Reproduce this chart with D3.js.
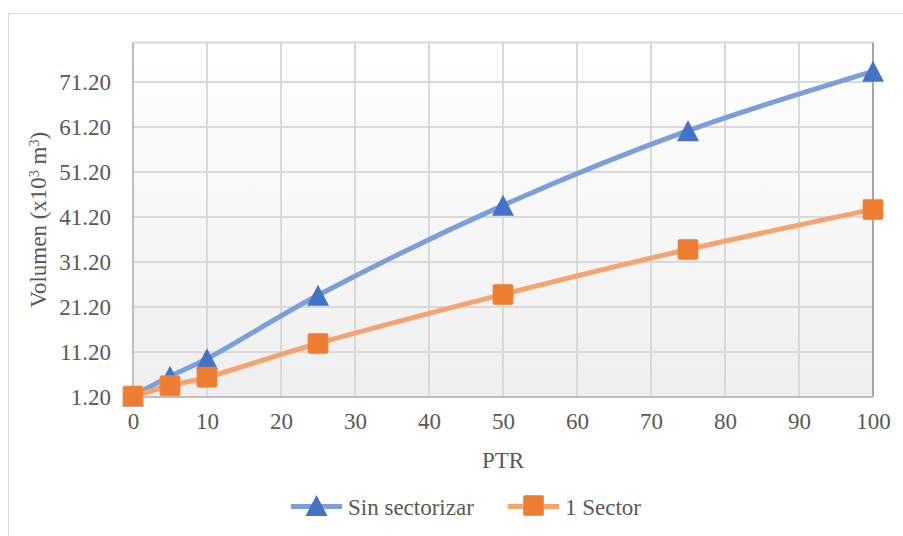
<!DOCTYPE html>
<html><head><meta charset="utf-8">
<script src="https://cdn.jsdelivr.net/npm/d3@7"></script>
<style>body{margin:0;background:#fff}svg{display:block}
svg text{font-family:"Liberation Serif","Times New Roman",serif;}</style>
</head><body><svg id="c" width="903" height="536"></svg>
<script>
const ptr = [0, 5, 10, 25, 50, 75, 100];
const sinSectorizar = [1.4, 5.8, 9.7, 23.8, 43.8, 60.4, 73.6];
const unSector = [1.4, 3.7, 5.6, 13.1, 24.0, 34.0, 42.9];
const yTicks = [1.2, 11.2, 21.2, 31.2, 41.2, 51.2, 61.2, 71.2];
const xTicks = [0, 10, 20, 30, 40, 50, 60, 70, 80, 90, 100];
const seriesNames = ["Sin sectorizar", "1 Sector"];

const FONT = '"Liberation Serif","Times New Roman",serif';
const svg = d3.select("#c");
const L = 133, R = 873, T = 42.5, B = 397;
const x = d3.scaleLinear().domain([0, 100]).range([L, R]);
const y = d3.scaleLinear().domain([1.2, 80]).range([B, T]);

svg.append("rect").attr("x", 8.5).attr("y", 13.5).attr("width", 1000).attr("height", 1000)
  .attr("fill", "#fff").attr("stroke", "#d9d9d9").attr("stroke-width", 1);

const defs = svg.append("defs");
const g = defs.append("linearGradient").attr("id", "bg").attr("x1", 0).attr("y1", 0).attr("x2", 0).attr("y2", 1);
g.append("stop").attr("offset", "0%").attr("stop-color", "#ffffff");
g.append("stop").attr("offset", "100%").attr("stop-color", "#efefef");
svg.append("rect").attr("x", L).attr("y", T).attr("width", R - L).attr("height", B - T).attr("fill", "url(#bg)");

svg.append("g").selectAll("line").data(xTicks.slice(1)).join("line")
  .attr("x1", d => x(d)).attr("x2", d => x(d)).attr("y1", T).attr("y2", B)
  .attr("stroke", "#d9d9d9").attr("stroke-width", 2);
svg.append("g").selectAll("line").data(yTicks.slice(1)).join("line")
  .attr("x1", L).attr("x2", R).attr("y1", d => y(d)).attr("y2", d => y(d))
  .attr("stroke", "#d9d9d9").attr("stroke-width", 2);
svg.append("line").attr("x1", L).attr("x2", R).attr("y1", T).attr("y2", T).attr("stroke", "#d9d9d9").attr("stroke-width", 2);
svg.append("line").attr("x1", L).attr("x2", L).attr("y1", T).attr("y2", B).attr("stroke", "#bfbfbf").attr("stroke-width", 2);
svg.append("line").attr("x1", R).attr("x2", R).attr("y1", T).attr("y2", B).attr("stroke", "#a6a6a6").attr("stroke-width", 2);
svg.append("line").attr("x1", L).attr("x2", R).attr("y1", B).attr("y2", B).attr("stroke", "#bfbfbf").attr("stroke-width", 2);

const yAxis = svg.append("g").attr("transform", `translate(${L},0)`)
  .call(d3.axisLeft(y).tickValues(yTicks).tickFormat(d3.format(".2f")).tickSize(0).tickPadding(22));
const xAxis = svg.append("g").attr("transform", `translate(0,${B})`)
  .call(d3.axisBottom(x).tickValues(xTicks).tickSize(0).tickPadding(16));
[yAxis, xAxis].forEach(a => {
  a.select(".domain").remove();
  a.attr("font-family", null);
  a.selectAll("text").style("font-family", FONT).attr("font-size", 23).attr("fill", "#595959");
});

svg.append("text").attr("transform", `translate(46,${(T + B) / 2}) rotate(-90)`)
  .attr("text-anchor", "middle").style("font-family", FONT).attr("font-size", 23).attr("fill", "#595959")
  .html('Volumen (x10<tspan baseline-shift="super" font-size="14">3</tspan> m<tspan baseline-shift="super" font-size="14">3</tspan>)');
svg.append("text").attr("x", (L + R) / 2).attr("y", 468).attr("text-anchor", "middle")
  .style("font-family", FONT).attr("font-size", 23).attr("fill", "#595959").text("PTR");

const line = d3.line().x(d => x(d[0])).y(d => y(d[1])).curve(d3.curveCatmullRom.alpha(0.5));
const series = [
  { name: seriesNames[0], vals: sinSectorizar, line: "#7a9fdb", mark: "#4472c4", shape: "tri" },
  { name: seriesNames[1], vals: unSector, line: "#f4a470", mark: "#ed7d31", shape: "sq" }
];
const tri = "M0,-10.5L11,10.5L-11,10.5Z";
function marker(sel, s) {
  if (s.shape === "tri") sel.append("path").attr("d", tri).attr("fill", s.mark);
  else sel.append("rect").attr("x", -10).attr("y", -10).attr("width", 20).attr("height", 20).attr("rx", 1.5)
    .attr("fill", s.mark).attr("stroke", "#f08a48").attr("stroke-width", 0.8);
}
series.forEach(s => {
  svg.append("path").datum(ptr.map((p, i) => [p, s.vals[i]])).attr("d", line)
    .attr("fill", "none").attr("stroke", s.line).attr("stroke-width", 5).attr("stroke-linecap", "round");
});
series.forEach(s => {
  ptr.forEach((p, i) => {
    const m = svg.append("g").attr("transform", `translate(${x(p)},${y(s.vals[i])})`);
    marker(m, s);
  });
});

const leg = [{ s: series[0], x0: 291 }, { s: series[1], x0: 508 }];
leg.forEach(l => {
  const gy = 506.5;
  svg.append("line").attr("x1", l.x0).attr("x2", l.x0 + 51).attr("y1", gy).attr("y2", gy)
    .attr("stroke", l.s.line).attr("stroke-width", 5);
  const m = svg.append("g").attr("transform", `translate(${l.x0 + 25.5},${gy - 1})`);
  marker(m, l.s);
  svg.append("text").attr("x", l.x0 + 57).attr("y", gy + 8).style("font-family", FONT).attr("font-size", 23)
    .attr("fill", "#595959").text(l.s.name);
});
</script></body></html>
